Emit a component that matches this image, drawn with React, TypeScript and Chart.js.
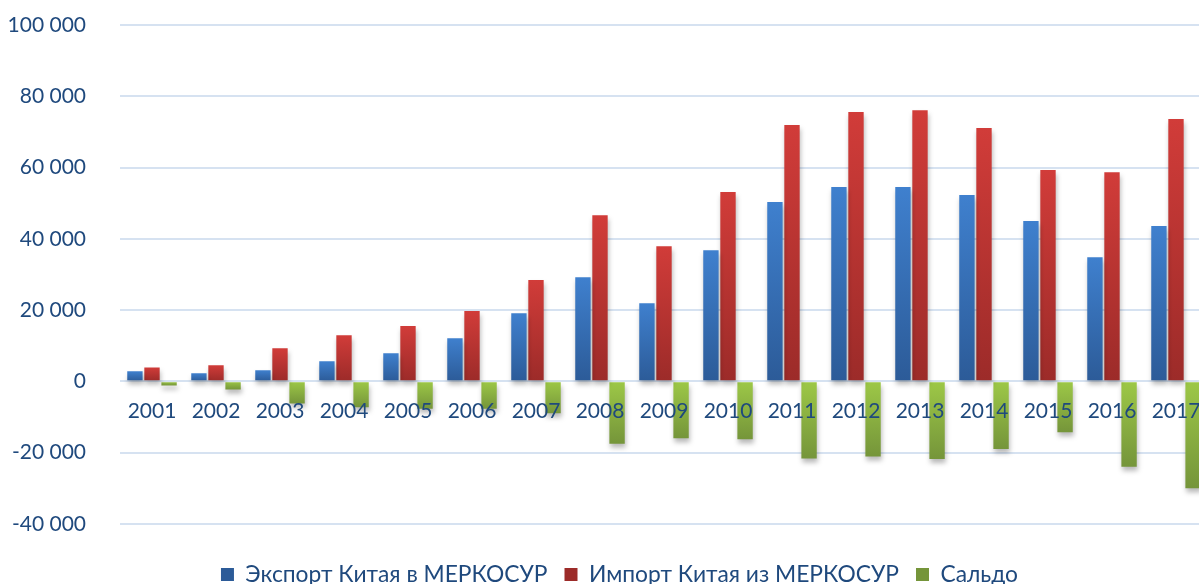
import React, { useEffect, useRef } from "react";
import { Chart, registerables } from "chart.js";

Chart.register(...registerables);

const years = ["2001", "2002", "2003", "2004", "2005", "2006", "2007", "2008", "2009", "2010", "2011", "2012", "2013", "2014", "2015", "2016", "2017"];
const exportVals = [2800, 2250, 3100, 5600, 7900, 12100, 19100, 29200, 21900, 36800, 50300, 54500, 54500, 52300, 45000, 34800, 43600];
const importVals = [3900, 4500, 9300, 12900, 15500, 19700, 28400, 46600, 37900, 53100, 71900, 75600, 76100, 71100, 59300, 58700, 73600];
const saldoVals = [-1200, -2300, -6200, -7300, -7700, -7700, -9000, -17500, -16000, -16300, -21700, -21100, -21800, -19000, -14300, -24000, -30000];
const seriesNames = ["Экспорт Китая в МЕРКОСУР", "Импорт Китая из МЕРКОСУР", "Сальдо"];
const yTicks = [-40000, -20000, 0, 20000, 40000, 60000, 80000, 100000];

const TEXT = "#1F497D";
const FONT = "Lato";

function grad(top: string, bottom: string, solid: string) {
  return (ctx: any) => {
    const chart = ctx.chart;
    if (ctx.type !== "data" || !chart.chartArea) return solid;
    const ys = chart.scales.y;
    const v = ctx.raw as number;
    const p = ys.getPixelForValue(v);
    const z = ys.getPixelForValue(0);
    const y0 = Math.min(p, z);
    const y1 = Math.max(p, z);
    if (!isFinite(y0) || !isFinite(y1) || y1 - y0 < 0.5) return solid;
    const g = chart.ctx.createLinearGradient(0, y0, 0, y1);
    g.addColorStop(0, top);
    g.addColorStop(1, bottom);
    return g;
  };
}

function fmt(v: number) {
  const s = String(Math.abs(v)).replace(/\B(?=(\d{3})+(?!\d))/g, " ");
  return (v < 0 ? "-" : "") + s;
}

const shadowPlugin = {
  id: "barShadow",
  beforeDatasetsDraw(chart: any) {
    const c = chart.ctx;
    c.save();
    c.shadowColor = "rgba(0,0,0,0.28)";
    c.shadowBlur = 5;
    c.shadowOffsetX = 1;
    c.shadowOffsetY = 4;
  },
  afterDatasetsDraw(chart: any) {
    chart.ctx.restore();
  },
};

export default function App() {
  const ref = useRef<HTMLCanvasElement | null>(null);

  useEffect(() => {
    document.body.style.margin = "0";
    const canvas = ref.current!;
    const chart = new Chart(canvas, {
      type: "bar",
      data: {
        labels: years,
        datasets: [
          {
            label: seriesNames[0],
            data: exportVals,
            backgroundColor: grad("#3F80CE", "#2C5B98", "#3A73BC"),
          },
          {
            label: seriesNames[1],
            data: importVals,
            backgroundColor: grad("#D13C39", "#9C2B29", "#C23734"),
          },
          {
            label: seriesNames[2],
            data: saldoVals,
            backgroundColor: grad("#9DC847", "#75953A", "#8FB841"),
          },
        ],
      },
      options: {
        responsive: false,
        animation: false,
        devicePixelRatio: 1,
        layout: { padding: { top: 25, right: 0, left: 0, bottom: 0 } },
        datasets: {
          bar: { categoryPercentage: 0.8, barPercentage: 0.9 },
        },
        plugins: {
          tooltip: { enabled: false },
          legend: {
            position: "bottom",
            title: { display: true, text: "", font: { size: 12 }, padding: { top: 0, bottom: 8 } },
            labels: {
              boxWidth: 13,
              boxHeight: 13,
              padding: 17,
              color: TEXT,
              font: { family: FONT, size: 22.8 },
            },
          },
        },
        scales: {
          x: {
            position: { y: 0 } as any,
            grid: { display: false, drawTicks: false },
            border: { display: false },
            ticks: {
              z: 1,
              color: TEXT,
              font: { family: FONT, size: 21 },
              padding: 17,
              maxRotation: 0,
              autoSkip: false,
            },
          },
          y: {
            min: -40000,
            max: 100000,
            afterBuildTicks: (scale: any) => {
              scale.ticks = yTicks.map((v) => ({ value: v }));
            },
            afterFit: (scale: any) => {
              scale.width = 120;
              scale.paddingTop = 12;
              scale.paddingBottom = 12;
            },
            grid: { color: "#D6E2F1", lineWidth: 2, drawTicks: false },
            border: { display: false },
            ticks: {
              color: TEXT,
              font: { family: FONT, size: 21 },
              padding: 34,
              callback: (v: any) => fmt(Number(v)),
            },
          },
          yRight: {
            type: "linear",
            position: "right",
            grid: { display: false, drawTicks: false },
            border: { display: false },
            ticks: { display: false },
            afterFit: (scale: any) => {
              scale.width = 31;
              scale.paddingTop = 0;
              scale.paddingBottom = 0;
            },
          },
        },
      },
      plugins: [shadowPlugin],
    });
    return () => chart.destroy();
  }, []);

  return (
    <div style={{ width: 1199, height: 584, overflow: "hidden", position: "relative" }}>
      <canvas ref={ref} width={1239} height={596} style={{ display: "block", width: 1239, height: 596 }} />
    </div>
  );
}
